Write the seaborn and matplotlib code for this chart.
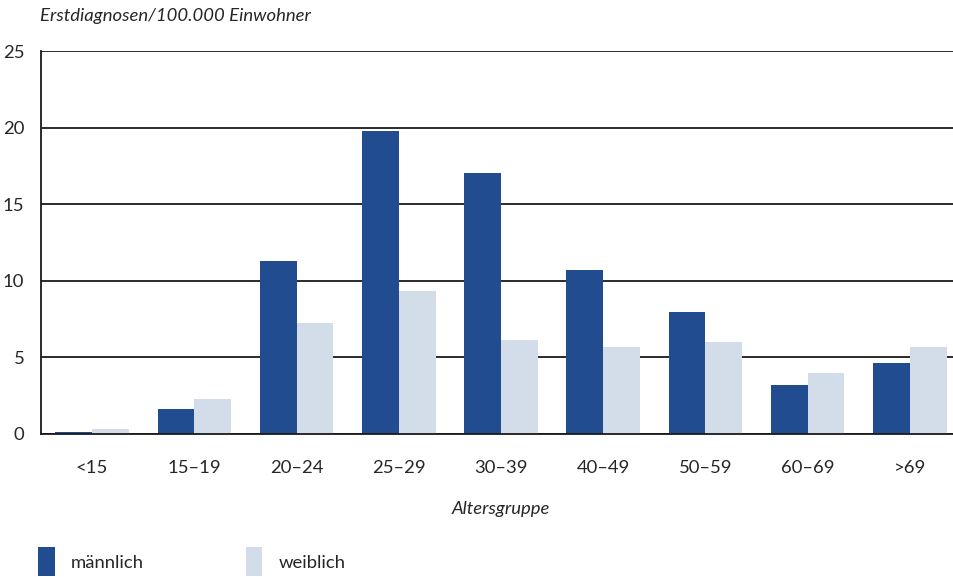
import matplotlib
matplotlib.use("Agg")
import matplotlib.pyplot as plt
import seaborn as sns
import pandas as pd
from matplotlib.ticker import FixedLocator

categories = ["<15", "15–19", "20–24", "25–29", "30–39", "40–49", "50–59", "60–69", ">69"]
maennlich = [0.13, 1.63, 11.3, 19.8, 17.05, 10.7, 7.95, 3.2, 4.63]
weiblich = [0.3, 2.28, 7.25, 9.33, 6.14, 5.68, 6.0, 4.0, 5.68]
series_names = ["männlich", "weiblich"]
colors = ["#214C90", "#D3DCE9"]
y_ticks = [0, 5, 10, 15, 20, 25]

df = pd.DataFrame({
    "Altersgruppe": categories * 2,
    "Wert": maennlich + weiblich,
    "Geschlecht": [series_names[0]] * len(categories) + [series_names[1]] * len(categories),
})

sns.set_style("white")
plt.rcParams["font.family"] = ["Lato", "DejaVu Sans"]
FS = 13.3

fig = plt.figure(figsize=(9.54, 5.77), dpi=100)
ax = fig.add_axes([41 / 954, 143 / 577, 920 / 954, 383 / 577])

sns.barplot(data=df, x="Altersgruppe", y="Wert", hue="Geschlecht",
            palette=colors, width=0.72, gap=0, ax=ax, legend=False,
            saturation=1, edgecolor="none", linewidth=0, errorbar=None)

ax.set_ylim(0, 25)
ax.set_xlim(-0.5, len(categories) - 0.5)
ax.set_yticks(y_ticks)
ax.set_yticklabels([str(t) for t in y_ticks], fontsize=FS)
ax.tick_params(axis="y", length=0, pad=12)
ax.yaxis.grid(True, color="#1a1a1a", linewidth=1.3)
ax.xaxis.grid(False)
ax.set_axisbelow(True)

ax.set_xticks(range(len(categories)))
ax.set_xticklabels(categories, fontsize=FS)
ax.tick_params(axis="x", which="major", length=0, pad=19)
ax.xaxis.set_minor_locator(FixedLocator([i - 0.5 for i in range(len(categories) + 1)]))
ax.tick_params(axis="x", which="minor", length=9, width=1.3, color="#1a1a1a", direction="out")

for s in ["top", "right"]:
    ax.spines[s].set_visible(False)
for s in ["left", "bottom"]:
    ax.spines[s].set_color("#1a1a1a")
    ax.spines[s].set_linewidth(1.3)

ax.set_ylabel("")
ax.set_xlabel("Altersgruppe", fontsize=FS, style="italic", labelpad=18)
fig.text(40 / 954, 1 - 16 / 577, "Erstdiagnosen/100.000 Einwohner", fontsize=FS,
         style="italic", va="center", ha="left")

handles = [plt.Rectangle((0, 0), 1, 1, facecolor=c, edgecolor="none") for c in colors]
fig.legend(handles, series_names, loc="lower left", bbox_to_anchor=(38 / 954, 1 / 577),
           ncol=2, frameon=False, fontsize=FS, handlelength=0.9, handleheight=2.0,
           handletextpad=0.9, columnspacing=5.5, borderpad=0, borderaxespad=0)

fig.savefig("out.png", dpi=100)
